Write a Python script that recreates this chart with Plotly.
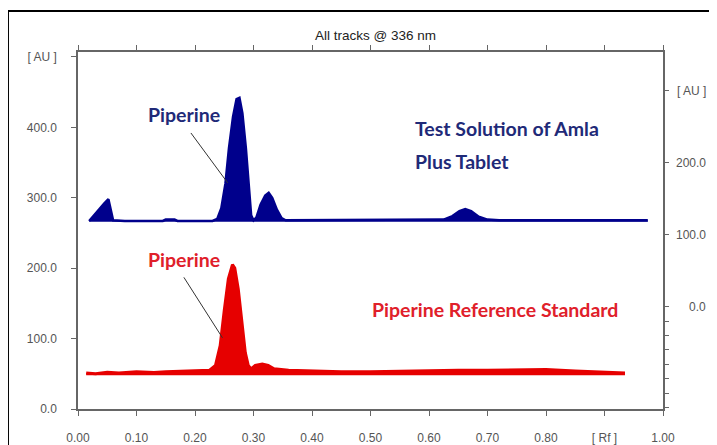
import plotly.graph_objects as go

# ---- data ----
rf_test = [0.019, 0.030, 0.045, 0.052, 0.056, 0.060, 0.080, 0.145, 0.150, 0.165, 0.170,
           0.230, 0.238, 0.245, 0.252, 0.258, 0.265, 0.271, 0.276, 0.281, 0.287, 0.292,
           0.296, 0.300, 0.305, 0.312, 0.320, 0.326, 0.332, 0.340, 0.348, 0.355, 0.400,
           0.500, 0.600, 0.625, 0.640, 0.652, 0.662, 0.672,
           0.685, 0.700, 0.720, 0.900, 0.974]
au_test = [267, 278, 292, 298, 282, 268, 267, 267, 269, 269, 267,
           267, 270, 285, 320, 370, 415, 440, 442, 420, 370, 310,
           275, 268, 272, 290, 303, 307, 300, 283, 271, 268, 268,
           268, 268, 269, 274, 281, 284, 281,
           273, 269, 268, 268, 268]

rf_ref = [0.014, 0.030, 0.050, 0.070, 0.100, 0.130, 0.150, 0.180, 0.200, 0.225, 0.235,
          0.243, 0.250, 0.257, 0.264, 0.268, 0.274, 0.280, 0.286, 0.291, 0.296, 0.303,
          0.315, 0.325, 0.335, 0.360, 0.400, 0.450, 0.500, 0.550, 0.600, 0.650, 0.700,
          0.750, 0.800, 0.850, 0.900, 0.935]
au_ref = [51, 50, 52, 51, 53, 52, 53, 54, 54, 55, 62,
          90, 140, 185, 205, 200, 170, 120, 80, 62, 57, 62,
          64, 62, 57, 55, 54, 53, 53, 54, 54, 55, 55,
          56, 56, 54, 52, 51]

test_base = 266
ref_base = 48

x_ticks = [0.0, 0.1, 0.2, 0.3, 0.4, 0.5, 0.6, 0.7, 0.8, 0.9, 1.0]
x_labels = ["0.00", "0.10", "0.20", "0.30", "0.40", "0.50", "0.60", "0.70", "0.80", "[ Rf ]", "1.00"]
yl_ticks = [0, 100, 200, 300, 400, 500]
yl_labels = ["0.0", "100.0", "200.0", "300.0", "400.0", "[ AU ]"]
yr_ticks = [-140, -120, -100, -80, -60, -40, -20, 0, 100, 200, 300]
yr_label_vals = [0, 100, 200, 300]
yr_labels = ["0.0", "100.0", "200.0", "[ AU ]"]

BLUE = "#00008c"
RED = "#e60000"
NAVY_TXT = "#1f2a78"
RED_TXT = "#e0202a"
AXIS = "#666666"
TICKFONT = dict(family="Liberation Sans, Arial, sans-serif", size=12, color="#555555")

fig = go.Figure()

fig.add_trace(go.Scatter(x=[rf_test[0], rf_test[-1]], y=[test_base, test_base], mode="lines",
                         line=dict(width=0, color=BLUE), showlegend=False, hoverinfo="skip"))
fig.add_trace(go.Scatter(x=rf_test, y=au_test, mode="lines", fill="tonexty", fillcolor=BLUE,
                         line=dict(color=BLUE, width=2.5), showlegend=False))
fig.add_trace(go.Scatter(x=[rf_ref[0], rf_ref[-1]], y=[ref_base, ref_base], mode="lines",
                         line=dict(width=0, color=RED), showlegend=False, hoverinfo="skip"))
fig.add_trace(go.Scatter(x=rf_ref, y=au_ref, mode="lines", fill="tonexty", fillcolor=RED,
                         line=dict(color=RED, width=3), showlegend=False))
fig.add_trace(go.Scatter(x=[0], y=[0], yaxis="y2", mode="markers", marker=dict(opacity=0),
                         showlegend=False, hoverinfo="skip"))

# page body has an 8px margin: figure is 709x437 placed at (8, 8)
fig.update_layout(
    width=709, height=437,
    margin=dict(l=70, r=54, t=44, b=36),
    paper_bgcolor="white", plot_bgcolor="white",
    xaxis=dict(range=[0, 1], tickvals=x_ticks, ticktext=x_labels, showgrid=False, zeroline=False,
               showline=True, linecolor=AXIS, linewidth=1.5, mirror="ticks", automargin=False,
               ticks="outside", ticklen=5, tickcolor=AXIS, tickfont=TICKFONT,
               ticklabelstandoff=12),
    yaxis=dict(range=[0, 507], tickvals=yl_ticks, ticktext=yl_labels, showgrid=False, zeroline=False,
               showline=True, linecolor=AXIS, linewidth=1.5, ticks="outside", ticklen=5,
               automargin=False, tickcolor=AXIS, tickfont=TICKFONT, ticklabelstandoff=12),
    yaxis2=dict(range=[-142, 354], overlaying="y", side="right", tickvals=yr_ticks,
                showticklabels=False, showgrid=False, zeroline=False, showline=True, automargin=False,
                linecolor=AXIS, linewidth=1.5, ticks="outside", ticklen=4, tickcolor=AXIS),
)

annotations = []
for v, t in zip(yr_label_vals, yr_labels):
    annotations.append(dict(x=1.077, xref="paper", y=v, yref="y2", text=t, showarrow=False,
                            xanchor="right", yanchor="middle", font=TICKFONT))
annotations += [
    dict(x=0.509, xref="paper", y=1.0476, yref="paper", text="All tracks @ 336 nm", showarrow=False,
         xanchor="center", yanchor="middle",
         font=dict(family="Liberation Sans, Arial, sans-serif", size=13.5, color="#222222")),
    dict(x=0.181, y=418, text="<b>Piperine</b>", showarrow=False,
         font=dict(family="Lato", size=19.5, color=NAVY_TXT)),
    dict(x=0.181, y=213, text="<b>Piperine</b>", showarrow=False,
         font=dict(family="Lato", size=19.5, color=RED_TXT)),
    dict(x=0.573, y=398, text="<b>Test Solution of Amla</b>", showarrow=False, xanchor="left",
         font=dict(family="Lato", size=19.5, color=NAVY_TXT)),
    dict(x=0.573, y=352, text="<b>Plus Tablet</b>", showarrow=False, xanchor="left",
         font=dict(family="Lato", size=19.5, color=NAVY_TXT)),
    dict(x=0.713, y=141, text="<b>Piperine Reference Standard</b>", showarrow=False,
         font=dict(family="Lato", size=19.5, color=RED_TXT)),
]
fig.update_layout(annotations=annotations)

shapes = [
    dict(type="line", x0=0.193, y0=392, x1=0.256, y1=321, line=dict(color="#333333", width=1)),
    dict(type="line", x0=0.181, y0=187, x1=0.247, y1=101, line=dict(color="#333333", width=1)),
    dict(type="rect", xref="paper", yref="paper", x0=-0.1197, y0=-0.3, x1=1.3, y1=1.115,
         line=dict(color="black", width=2), layer="below"),
]
fig.update_layout(shapes=shapes)

fig.write_html("out.html")
